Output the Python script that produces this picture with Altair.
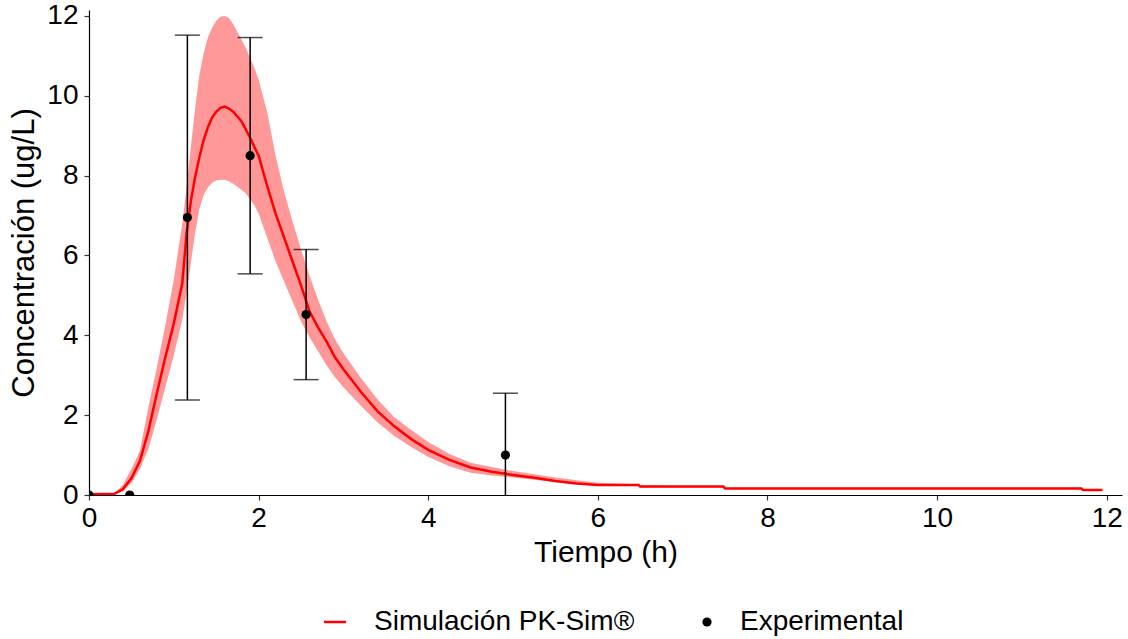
import altair as alt
import pandas as pd

# ---- Simulated curve (PK-Sim) ----
time_sim = [0, 0.3, 0.4, 0.5, 0.6, 0.7, 0.8, 0.9, 1.0, 1.1, 1.15, 1.2, 1.25, 1.3, 1.35,
            1.4, 1.45, 1.5, 1.55, 1.6, 1.65, 1.7, 1.75, 1.8, 1.85, 1.9, 1.95, 2.0, 2.1,
            2.2, 2.3, 2.4, 2.5, 2.6, 2.7, 2.8, 2.9, 3.0, 3.2, 3.4, 3.6, 3.8, 4.0, 4.25,
            4.5, 4.75, 5.0, 5.25, 5.5, 5.75, 6.0, 6.48, 6.5, 7.48, 7.5, 11.7, 11.72, 11.95]
conc_mean = [0.02, 0.03, 0.15, 0.42, 0.85, 1.6, 2.55, 3.45, 4.3, 5.3, 6.55, 7.35, 7.95, 8.45, 8.88,
             9.2, 9.45, 9.6, 9.7, 9.73, 9.68, 9.6, 9.48, 9.35, 9.15, 8.95, 8.72, 8.5, 7.75,
             7.05, 6.45, 5.85, 5.25, 4.6, 4.2, 3.85, 3.45, 3.15, 2.6, 2.1, 1.72, 1.4, 1.13, 0.88,
             0.69, 0.58, 0.5, 0.43, 0.35, 0.29, 0.25, 0.25, 0.21, 0.21, 0.165, 0.165, 0.125, 0.125]
conc_upper = [0.02, 0.04, 0.25, 0.65, 1.1, 2.2, 3.2, 4.25, 5.4, 6.8, 7.7, 8.7, 9.66, 10.5, 11.05,
              11.45, 11.7, 11.88, 11.98, 12.0, 11.95, 11.8, 11.6, 11.4, 11.2, 10.95, 10.7, 10.4, 9.6,
              8.5, 7.6, 6.85, 6.15, 5.5, 4.9, 4.35, 3.9, 3.55, 2.95, 2.4, 1.95, 1.63, 1.33, 1.03,
              0.81, 0.7, 0.6, 0.52, 0.44, 0.37, 0.31, 0.27, 0.24, 0.22, 0.18, 0.18, 0.14, 0.14]
conc_lower = [0.0, 0.02, 0.08, 0.3, 0.65, 1.15, 1.9, 2.7, 3.5, 4.4, 5.05, 5.8, 6.55, 7.15, 7.5,
              7.7, 7.82, 7.88, 7.9, 7.9, 7.86, 7.8, 7.72, 7.64, 7.55, 7.4, 7.25, 7.05, 6.45,
              5.85, 5.35, 4.85, 4.35, 3.95, 3.6, 3.25, 2.95, 2.7, 2.25, 1.82, 1.48, 1.2, 0.95, 0.72,
              0.56, 0.49, 0.44, 0.38, 0.32, 0.27, 0.23, 0.23, 0.19, 0.19, 0.15, 0.15, 0.11, 0.11]

# ---- Experimental data ----
time_obs = [0, 0.48, 1.16, 1.9, 2.56, 4.91]
conc_obs = [0, 0, 6.95, 8.5, 4.52, 1.0]
sd_obs = [None, None, 4.57, 2.96, 1.63, 1.55]

x_ticks = [0, 2, 4, 6, 8, 10, 12]
y_ticks = [0, 2, 4, 6, 8, 10, 12]

sim_label = "Simulación PK-Sim®"
obs_label = "Experimental"

sim = pd.DataFrame({"t": time_sim, "mean": conc_mean, "upper": conc_upper, "lower": conc_lower})
sim["serie"] = sim_label
obs = pd.DataFrame({"t": time_obs, "c": conc_obs, "sd": sd_obs})
obs["serie"] = obs_label
obs["lo"] = obs["c"] - obs["sd"]
obs["hi"] = obs["c"] + obs["sd"]
err = obs.dropna(subset=["sd"])

FONT = "Liberation Sans"
xscale = alt.Scale(domain=[0, 12.18], nice=False, zero=False)
yscale = alt.Scale(domain=[0, 12.15], nice=False)

xaxis = alt.Axis(values=x_ticks, title="Tiempo (h)", grid=False, labelFontSize=28,
                 titleFontSize=30, titlePadding=5, labelPadding=4, format="d", labelFlush=False)
yaxis = alt.Axis(values=y_ticks, title="Concentración (ug/L)", grid=False, labelFontSize=28,
                 titleFontSize=31, titlePadding=6, labelPadding=6, format="d", labelFlush=False)

base_sim = alt.Chart(sim)

band = base_sim.mark_area(color="#FF9999", opacity=1, clip=True).encode(
    x=alt.X("t:Q", scale=xscale, axis=xaxis),
    y=alt.Y("lower:Q", scale=yscale, axis=yaxis),
    y2="upper:Q",
)

line = base_sim.mark_line(strokeWidth=2.5, clip=True).encode(
    x=alt.X("t:Q", scale=xscale),
    y=alt.Y("mean:Q", scale=yscale),
    stroke=alt.Stroke(
        "serie:N",
        scale=alt.Scale(domain=[sim_label], range=["#FF0000"]),
        legend=alt.Legend(orient="none", legendX=232, legendY=598, direction="horizontal",
                          title=None, labelFontSize=28, labelFont=FONT, symbolType="stroke",
                          symbolSize=484, symbolStrokeWidth=2.5, padding=0, labelOffset=25,
                          labelLimit=0),
    ),
)

rules = alt.Chart(err).mark_rule(color="black", strokeWidth=1.5, clip=True).encode(
    x=alt.X("t:Q", scale=xscale),
    y=alt.Y("lo:Q", scale=yscale),
    y2="hi:Q",
)
cap_hi = alt.Chart(err).mark_tick(color="black", orient="horizontal", size=25,
                                  thickness=1.5, clip=True).encode(
    x=alt.X("t:Q", scale=xscale),
    y=alt.Y("hi:Q", scale=yscale),
)
cap_lo = alt.Chart(err).mark_tick(color="black", orient="horizontal", size=25,
                                  thickness=1.5, clip=True).encode(
    x=alt.X("t:Q", scale=xscale),
    y=alt.Y("lo:Q", scale=yscale),
)

points = alt.Chart(obs).mark_circle(size=85, opacity=1, clip=True).encode(
    x=alt.X("t:Q", scale=xscale),
    y=alt.Y("c:Q", scale=yscale),
    color=alt.Color(
        "serie:N",
        scale=alt.Scale(domain=[obs_label], range=["black"]),
        legend=alt.Legend(orient="none", legendX=604, legendY=598, direction="horizontal",
                          title=None, labelFontSize=28, labelFont=FONT, symbolType="circle",
                          symbolSize=85, padding=0, labelOffset=19, labelLimit=0),
    ),
)

chart = alt.layer(band, line, rules, cap_hi, cap_lo, points).properties(
    width=1033, height=485,
    autosize=alt.AutoSizeParams(type="none"),
    padding={"left": 89, "top": 10, "right": 6, "bottom": 144},
).configure(font=FONT).configure_view(stroke=None).configure_axis(
    domainColor="black", domainWidth=1.2, tickColor="#333333", tickSize=5, tickWidth=1.2,
    labelColor="black", titleColor="black", labelFont=FONT, titleFont=FONT,
    titleFontWeight="normal",
).configure_legend(labelColor="black")

chart.save("out.html", embed_options={"renderer": "svg", "actions": False})
